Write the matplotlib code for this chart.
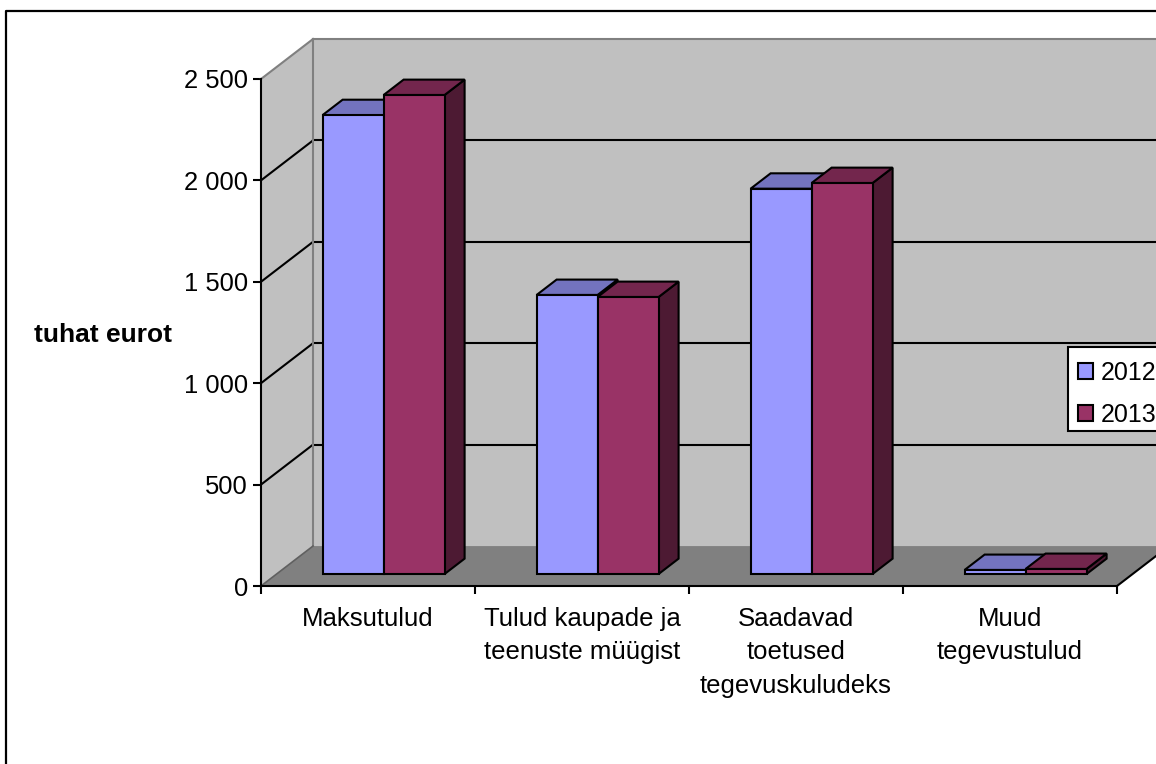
import matplotlib
matplotlib.use("Agg")
import matplotlib.pyplot as plt
from matplotlib.lines import Line2D
from matplotlib.patches import Patch, Polygon, Rectangle

plt.rcParams["font.family"] = ["Liberation Sans", "DejaVu Sans"]

categories = [
    "Maksutulud",
    "Tulud kaupade ja\nteenuste müügist",
    "Saadavad\ntoetused\ntegevuskuludeks",
    "Muud\ntegevustulud",
]
series_names = ["2012", "2013"]
values_2012 = [2263, 1376, 1900, 20]
values_2013 = [2362, 1366, 1928, 25]
value_ticks = [0, 500, 1000, 1500, 2000, 2500]
value_labels = ["0", "500", "1 000", "1 500", "2 000", "2 500"]

W, H = 1156, 764
BLUE = ("#9999FF", "#7373BF", "#4D4D80")
MAROON = ("#993366", "#73264D", "#4D1A33")
LW = 1.5

# 3d look: how far the back wall sits from the front plane, in data units
DEPTH_X = 52 / 214
DEPTH_Y = 197
BAR_W = 0.285
BAR_START = 0.215
BAR_NEAR = 0.3
BAR_FAR = 0.685


def pt(x, y, d=0.0):
    return (x + d * DEPTH_X, y + d * DEPTH_Y)


fig = plt.figure(figsize=(W / 100, H / 100), dpi=100)
ax = fig.add_axes([261 / W, (H - 586) / H, 856 / W, 507 / H])
ax.set_xlim(0, 4)
ax.set_ylim(0, 2500)
ax.patch.set_visible(False)


def poly(points, face, edge="none", lw=LW, z=1):
    ax.add_patch(Polygon(points, closed=True, facecolor=face, edgecolor=edge, lw=lw,
                         zorder=z, clip_on=False, joinstyle="miter"))


def seg(a, b, color="black", lw=LW, z=2):
    ax.add_line(Line2D([a[0], b[0]], [a[1], b[1]], color=color, lw=lw, zorder=z,
                       clip_on=False))


# walls and floor
poly([pt(0, 0, 1), pt(4, 0, 1), pt(4, 2500, 1), pt(0, 2500, 1)], "#C0C0C0")
poly([pt(0, 0), pt(0, 0, 1), pt(0, 2500, 1), pt(0, 2500)], "#C0C0C0")
poly([pt(0, 0), pt(4, 0), pt(4, 0, 1), pt(0, 0, 1)], "#808080")

for v in value_ticks[1:-1]:
    seg(pt(0, v), pt(0, v, 1))
    seg(pt(0, v, 1), pt(4, v, 1))
seg(pt(0, 2500), pt(0, 2500, 1), "#808080", 1.5)
seg(pt(0, 2500, 1), pt(4, 2500, 1), "#808080", 1.5)
seg(pt(0, 0, 1), pt(0, 2500, 1), "#808080", 1.5)
seg(pt(0, 0), pt(0, 0, 1), "#606060", 1.2)
seg(pt(4, 0), pt(4, 0, 1))

# bars
z = 3
for i in range(len(categories)):
    for j, (vals, cols) in enumerate(zip([values_2012, values_2013], [BLUE, MAROON])):
        x0 = i + BAR_START + j * BAR_W
        x1 = x0 + BAR_W
        v = vals[i]
        # the bar stands on the floor, so its value is measured from the floor
        front = [pt(x0, 0, BAR_NEAR), pt(x1, 0, BAR_NEAR), pt(x1, v, BAR_NEAR), pt(x0, v, BAR_NEAR)]
        top = [pt(x0, v, BAR_NEAR), pt(x1, v, BAR_NEAR), pt(x1, v, BAR_FAR), pt(x0, v, BAR_FAR)]
        side = [pt(x1, 0, BAR_NEAR), pt(x1, 0, BAR_FAR), pt(x1, v, BAR_FAR), pt(x1, v, BAR_NEAR)]
        poly(side, cols[2], "black", z=z)
        poly(top, cols[1], "black", z=z)
        poly(front, cols[0], "black", z=z)
        z += 1

# axes
for name in ["top", "right"]:
    ax.spines[name].set_visible(False)
for name in ["left", "bottom"]:
    ax.spines[name].set_linewidth(LW)
    ax.spines[name].set_zorder(20)

ax.set_yticks(value_ticks, value_labels)
ax.set_xticks(range(len(categories) + 1), [""] * (len(categories) + 1))
ax.set_xticks([i + 0.5 for i in range(len(categories))], categories, minor=True)
ax.tick_params(axis="y", which="major", labelsize=18.4, length=5.5, width=LW, pad=4, direction="out")
ax.tick_params(axis="x", which="major", length=5.5, width=LW, direction="out")
ax.tick_params(axis="x", which="minor", length=0, labelsize=18.5, pad=15)
for lab in ax.get_xticklabels(minor=True):
    lab.set_linespacing(1.5)

ax.set_ylabel("tuhat eurot", rotation=0, ha="right", va="center", fontweight="bold", fontsize=19)
ax.yaxis.set_label_coords((172 - 261) / 856, (586 - 335) / 507)

# legend box runs off the image, so the frame is its own rectangle
fig.add_artist(Rectangle((1068 / W, (H - 431) / H), 200 / W, 84 / H, transform=fig.transFigure,
                         facecolor="white", edgecolor="black", lw=LW, zorder=29))
handles = [Patch(facecolor=BLUE[0], edgecolor="black", lw=LW),
           Patch(facecolor=MAROON[0], edgecolor="black", lw=LW)]
leg = fig.legend(handles, series_names, loc="upper left",
                 bbox_to_anchor=(1068 / W, (H - 351) / H),
                 fontsize=18, frameon=False, handlelength=0.6, handleheight=0.6,
                 handletextpad=0.32, labelspacing=0.72, borderpad=0.4, borderaxespad=0)
leg.set_zorder(30)

# chart frame, cut off by the image on the right and at the bottom
fig.add_artist(Line2D([6 / W, 6 / W, 1], [0, (H - 11) / H, (H - 11) / H], color="black", lw=1.6))

fig.savefig("out.png", dpi=100)
